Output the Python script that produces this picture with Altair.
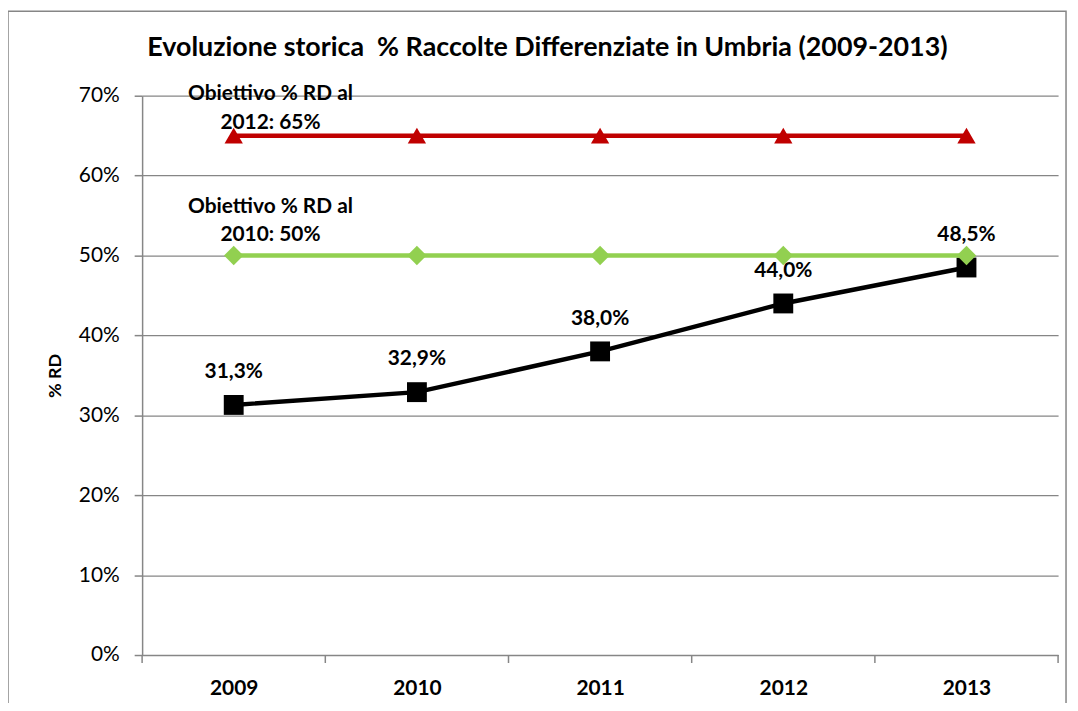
import altair as alt
import pandas as pd

years = [2009, 2010, 2011, 2012, 2013]
rd_values = [31.3, 32.9, 38.0, 44.0, 48.5]
rd_labels = ["31,3%", "32,9%", "38,0%", "44,0%", "48,5%"]
target_2012 = [65, 65, 65, 65, 65]
target_2010 = [50, 50, 50, 50, 50]
y_ticks = [0, 10, 20, 30, 40, 50, 60, 70]
band_edges = [2008.5, 2009.5, 2010.5, 2011.5, 2012.5, 2013.5]
note_2012 = ["Obiettivo % RD al", "2012: 65%"]
note_2010 = ["Obiettivo % RD al", "2010: 50%"]
title_text = "Evoluzione storica \u00a0% Raccolte Differenziate in Umbria (2009-2013)"

df = pd.DataFrame({"year": years, "rd": rd_values, "label": rd_labels,
                   "t12": target_2012, "t10": target_2010})
edges = pd.DataFrame({"edge": band_edges})
notes = pd.DataFrame({
    "year": [years[0]] * 4,
    "v": [target_2012[0], target_2012[0], target_2010[0], target_2010[0]],
    "text": note_2012 + note_2010,
    "key": ["a0", "a1", "b0", "b1"],
})

W, H = 922, 563
FONT = "Lato"
GRAY = "#868686"

xscale = alt.Scale(domain=[band_edges[0], band_edges[-1]], nice=False, zero=False)
xaxis = alt.Axis(values=years, format="d", ticks=False, grid=False, labelFontWeight="bold",
                 labelFontSize=21, labelPadding=23, domainColor=GRAY, domainWidth=1.5,
                 labelColor="black", title=None)
yscale = alt.Scale(domain=[0, 70], nice=False)
yaxis = alt.Axis(values=y_ticks, labelExpr="datum.value + '%'", labelFontSize=21, labelPadding=15,
                 labelColor="black", tickSize=8, tickColor=GRAY, tickWidth=1.5, domainColor=GRAY,
                 domainWidth=1.5, gridColor=GRAY, gridWidth=1.2, title="% RD", titleFontSize=18,
                 titleFontWeight="bold", titleColor="black", titleX=-87, titleY=H / 2,
                 titleAngle=-90, titleAlign="center", titleBaseline="middle")


def X(field):
    return alt.X(field, scale=xscale, axis=xaxis)


def Y(field):
    return alt.Y(field, scale=yscale, axis=yaxis)


base = alt.Chart(df)

frame = alt.Chart(pd.DataFrame({"a": [0]})).mark_rect(
    fill="transparent", stroke=GRAY, strokeWidth=1.5
).encode(x=alt.value(-135), x2=alt.value(W + 8), y=alt.value(-85), y2=alt.value(H + 80))

title = alt.Chart(pd.DataFrame({"t": [title_text]})).mark_text(
    font=FONT, fontSize=27, fontWeight="bold", color="black", baseline="middle", align="center"
).encode(x=alt.value(W / 2 - 53), y=alt.value(-48), text="t:N")

edge_ticks = alt.Chart(edges).mark_rule(color=GRAY, strokeWidth=1.5).encode(
    x=X("edge:Q"), y=alt.value(H), y2=alt.value(H + 8))

rd_line = base.mark_line(color="black", strokeWidth=4.5).encode(x=X("year:Q"), y=Y("rd:Q"))
rd_pts = base.mark_point(shape="square", filled=True, color="black", size=400, opacity=1).encode(
    x=X("year:Q"), y=Y("rd:Q"))
rd_text = base.mark_text(font=FONT, fontSize=21, fontWeight="bold", color="black", dy=-33).encode(
    x=X("year:Q"), y=Y("rd:Q"), text="label:N")

g_line = base.mark_line(color="#92D050", strokeWidth=4.5).encode(x=X("year:Q"), y=Y("t10:Q"))
g_pts = base.mark_point(shape="diamond", filled=True, color="#92D050", size=380, opacity=1).encode(
    x=X("year:Q"), y=Y("t10:Q"))

r_line = base.mark_line(color="#C00000", strokeWidth=4.5).encode(x=X("year:Q"), y=Y("t12:Q"))
r_pts = base.mark_point(shape="triangle-up", filled=True, color="#C00000", size=340, opacity=1).encode(
    x=X("year:Q"), y=Y("t12:Q"))


def note(key, dy):
    return alt.Chart(notes).transform_filter(alt.datum.key == key).mark_text(
        font=FONT, fontSize=21, fontWeight="bold", color="black", dx=37, dy=dy
    ).encode(x=X("year:Q"), y=Y("v:Q"), text="text:N")


chart = alt.layer(
    frame, title, edge_ticks, rd_line, rd_pts, g_line, g_pts, r_line, r_pts, rd_text,
    note("a0", -42), note("a1", -13), note("b0", -49), note("b1", -21),
).properties(
    width=W, height=H,
    autosize=alt.AutoSizeParams(type="none"),
    padding={"left": 135, "top": 86, "right": 12, "bottom": 46},
).configure_view(stroke=None).configure_axis(labelFont=FONT, titleFont=FONT)

chart.save("out.html", embed_options={"renderer": "svg", "actions": False})
